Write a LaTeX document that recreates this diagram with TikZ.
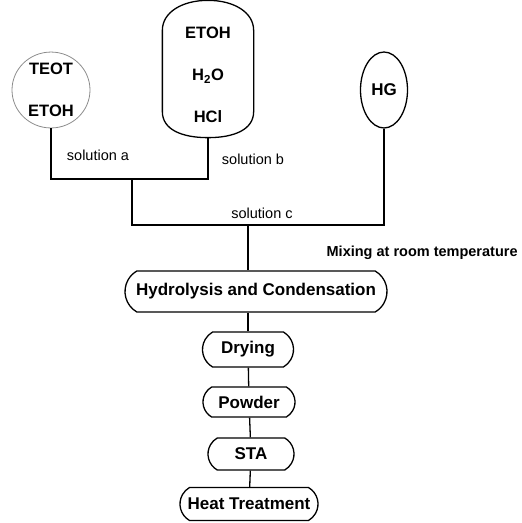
\documentclass[tikz,border=0pt]{standalone}
\usepackage{fontspec}
\setmainfont{Liberation Sans}
\usetikzlibrary{shapes.geometric,shapes.misc,calc}

\begin{document}
\begin{tikzpicture}[x=1pt, y=-1pt, line width=1.3pt,
    every node/.style={font=\fontsize{17}{18}\selectfont\bfseries, inner sep=0pt, align=center},
    stage/.style={draw, rounded rectangle, rounded rectangle arc length=120, minimum height=33pt},
    tag/.style={font=\fontsize{14.5}{16}\selectfont}
  ]
  \useasboundingbox (0,0) rectangle (522,523);

  % starting solutions
  \node[draw=black!45, line width=0.8pt, ellipse, minimum width=78pt, minimum height=70pt,
        font=\fontsize{16.5}{42}\selectfont\bfseries] (teot) at (51,90) {TEOT\\ETOH};
  \node[minimum width=90pt, minimum height=136pt] (solb) at (208,69) {};
  \draw ($(solb.north west)+(0,30)$) -- ($(solb.south west)+(0,-26)$)
    .. controls ($(solb.south west)+(0,-8)$) and ($(solb.south)+(-26,0)$) .. (solb.south)
    .. controls ($(solb.south)+(26,0)$) and ($(solb.south east)+(0,-8)$) .. ($(solb.south east)+(0,-26)$)
    -- ($(solb.north east)+(0,30)$)
    .. controls ($(solb.north east)+(0,12)$) and ($(solb.north)+(26,0)$) .. (solb.north)
    .. controls ($(solb.north)+(-26,0)$) and ($(solb.north west)+(0,12)$) .. cycle;
  \node[font=\fontsize{16.5}{42}\selectfont\bfseries] (acid) at (208,75) {ETOH\\H\textsubscript{2}O\\HCl};
  \node[draw, ellipse, minimum width=47pt, minimum height=76pt] (hg) at (384,90) {HG};

  % mixing lines
  \coordinate (jab) at (132,179);
  \coordinate (jc) at (248,225);
  \draw (teot.south) -- (teot.south |- jab) -- (solb.south |- jab) -- (solb.south);
  \draw (jab) -- (jab |- jc) -- (hg.south |- jc) -- (hg.south);
  \node[tag] (sola) at (98,155) {solution a};
  \node[tag] (solbl) at (253,159) {solution b};
  \node[tag] (solc) at (262,213) {solution c};
  \node[tag, font=\fontsize{14.5}{16}\selectfont\bfseries, anchor=west] (mix) at (326,253) {Mixing at room temperature};

  % process chain
  \node[stage, minimum width=262pt, minimum height=41pt] (hydro) at (256,291.5) {Hydrolysis and Condensation};
  \node[stage, minimum width=91pt, minimum height=35pt] (dry) at (248,349.5) {Drying};
  \node[stage, minimum width=92pt, minimum height=30pt] (powder) at (249,402) {Powder};
  \node[stage, minimum width=86pt, minimum height=32pt] (sta) at (251,454) {STA};
  \node[stage, minimum width=138pt] (heat) at (249,504) {Heat Treatment};

  \draw (jc) -- (jc |- hydro.north);
  \draw (jc |- hydro.south) -- (jc |- dry.north);
  \foreach \a/\b in {dry/powder, powder/sta, sta/heat}
    \draw (\a) -- (\b);
\end{tikzpicture}
\end{document}
